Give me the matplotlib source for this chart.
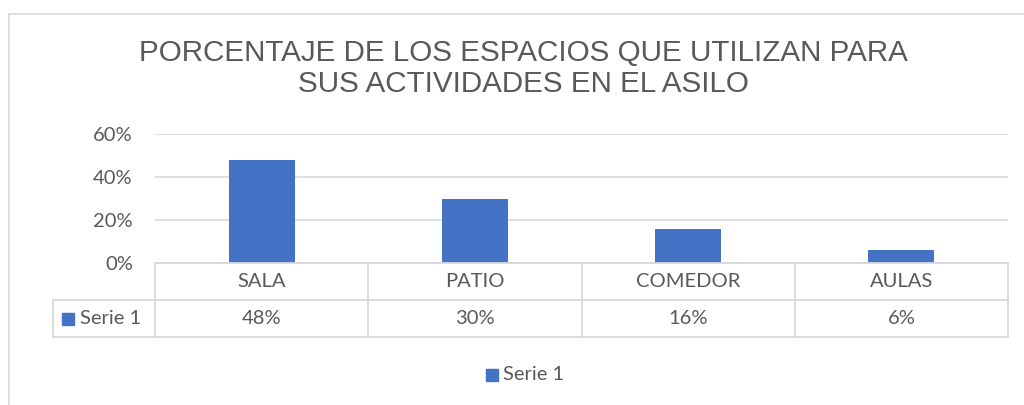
import matplotlib
matplotlib.use("Agg")
import matplotlib.pyplot as plt
from matplotlib.lines import Line2D
from matplotlib.patches import Rectangle
import numpy as np

categories = ["SALA", "PATIO", "COMEDOR", "AULAS"]
values = [0.48, 0.30, 0.16, 0.06]
value_labels = ["48%", "30%", "16%", "6%"]
series_name = "Serie 1"
yticks = [0, 0.2, 0.4, 0.6]
ytick_labels = ["0%", "20%", "40%", "60%"]
title = "PORCENTAJE DE LOS ESPACIOS QUE UTILIZAN PARA\nSUS ACTIVIDADES EN EL ASILO"

W, H = 1024, 405
BAR = "#4472C4"
TXT = "#595959"
GRID = "#D9D9D9"
FONT = ["Lato", "DejaVu Sans"]
FS = 14.5

fig = plt.figure(figsize=(W / 100, H / 100), dpi=100)
fig.patch.set_facecolor("white")

def fx(px):
    return px / W

def fy(py):
    return 1 - py / H

# chart border
fig.add_artist(Line2D([fx(8.5), fx(1024)], [fy(14), fy(14)], color="#D9D9D9", lw=1.2, transform=fig.transFigure))
fig.add_artist(Line2D([fx(8.5), fx(8.5)], [fy(14), fy(405)], color="#D9D9D9", lw=1.2, transform=fig.transFigure))

left, right, top, bottom = 155, 1008, 134, 263
ax = fig.add_axes([fx(left), fy(bottom), fx(right) - fx(left), fy(top) - fy(bottom)])
x = np.arange(len(categories))
ax.bar(x, values, width=0.31, color=BAR, zorder=3)
ax.set_xlim(-0.5, len(categories) - 0.5)
ax.set_ylim(0, 0.6)
ax.set_yticks(yticks)
ax.set_yticklabels(ytick_labels, fontsize=FS, color=TXT, family=FONT)
ax.set_xticks([])
ax.tick_params(axis="y", length=0, pad=16)
ax.grid(axis="y", color=GRID, lw=1.2, zorder=0)
for s in ax.spines.values():
    s.set_visible(False)
ax.set_facecolor("none")

fig.text(fx(523), fy(68.5), title, ha="center", va="center", fontsize=21.3,
         color=TXT, family=["Liberation Sans", "DejaVu Sans"], linespacing=1.12)

# data table
fig.canvas.draw()
def data_to_px(xd):
    return ax.transData.transform((xd, 0))[0]

bounds = [data_to_px(b) for b in np.arange(len(categories) + 1) - 0.5]
row1_top, row1_bot, row2_bot = 263, 300, 337
legcol_left = 53
lw = 1.3
def hline(x0, x1, y):
    fig.add_artist(Line2D([x0 / W, x1 / W], [fy(y), fy(y)], color=GRID, lw=lw, transform=fig.transFigure))
def vline(xp, y0, y1):
    fig.add_artist(Line2D([xp / W, xp / W], [fy(y0), fy(y1)], color=GRID, lw=lw, transform=fig.transFigure))

hline(bounds[0], bounds[-1], row1_top)
hline(legcol_left, bounds[-1], row1_bot)
hline(legcol_left, bounds[-1], row2_bot)
for b in bounds:
    vline(b, row1_top, row2_bot)
vline(legcol_left, row1_bot, row2_bot)

for i, (c, v) in enumerate(zip(categories, value_labels)):
    cx = (bounds[i] + bounds[i + 1]) / 2
    fig.text(cx / W, fy((row1_top + row1_bot) / 2), c, ha="center", va="center",
             fontsize=FS, color=TXT, family=FONT)
    fig.text(cx / W, fy((row1_bot + row2_bot) / 2), v, ha="center", va="center",
             fontsize=FS, color=TXT, family=FONT)

# legend key in table
fig.add_artist(Rectangle((fx(62), fy(325)), 12 / W, 12 / H, color=BAR, transform=fig.transFigure))
fig.text(fx(80), fy(319), series_name, ha="left", va="center", fontsize=FS, color=TXT, family=FONT)

# bottom legend
fig.add_artist(Rectangle((fx(486), fy(381)), 12 / W, 12 / H, color=BAR, transform=fig.transFigure))
fig.text(fx(503), fy(374), series_name, ha="left", va="center", fontsize=FS, color=TXT, family=FONT)

fig.savefig("out.png", dpi=100, facecolor="white")
